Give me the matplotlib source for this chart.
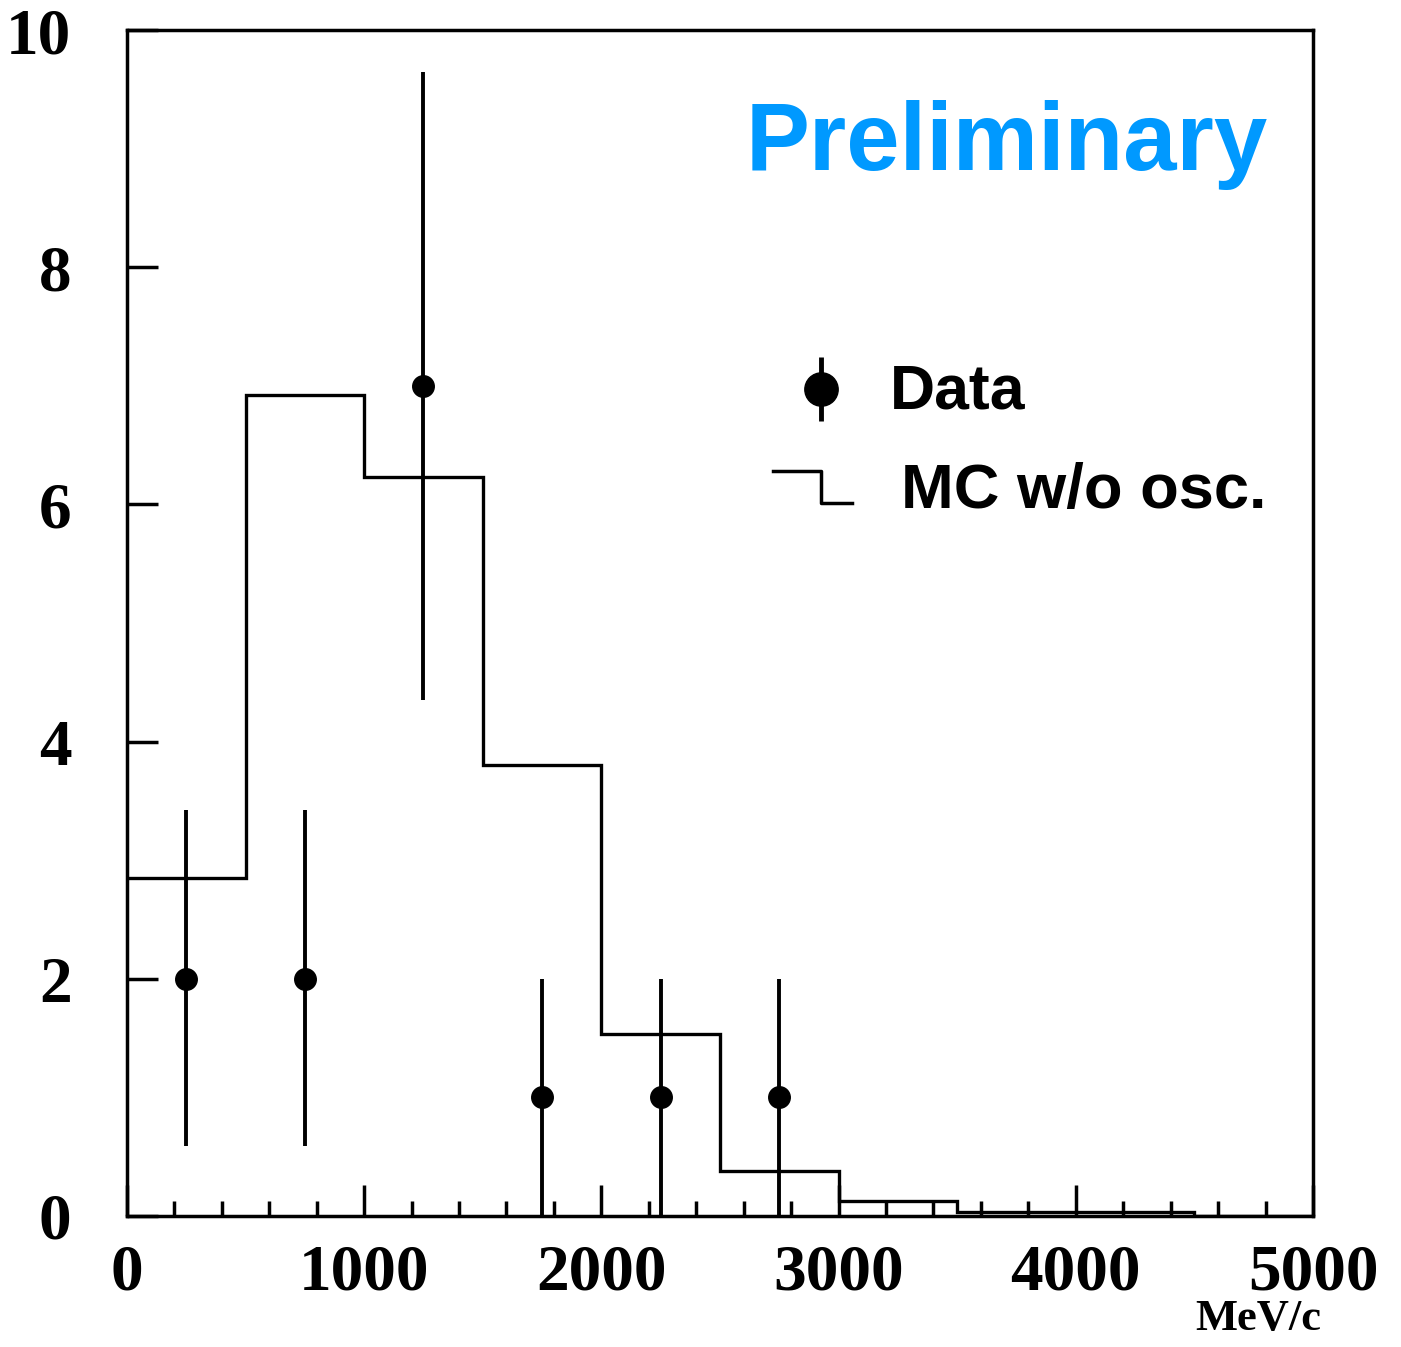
import numpy as np
import matplotlib
matplotlib.use('Agg')
import matplotlib.pyplot as plt
from matplotlib.ticker import MultipleLocator

# MC histogram (bin edges in MeV/c, contents)
mc_edges = [0, 500, 1000, 1500, 2000, 2500, 3000, 3500, 4000, 4500, 5000]
mc_counts = [2.85, 6.92, 6.23, 3.80, 1.53, 0.38, 0.13, 0.03, 0.03, 0.0]

# data points
data_x = [250, 750, 1250, 1750, 2250, 2750]
data_y = [2, 2, 7, 1, 1, 1]
err_lo = [1.41, 1.41, 2.65, 1.0, 1.0, 1.0]
err_hi = [1.42, 1.42, 2.65, 1.0, 1.0, 1.0]

x_ticks = [0, 1000, 2000, 3000, 4000, 5000]
y_ticks = [0, 2, 4, 6, 8, 10]

serif = ['Liberation Serif', 'DejaVu Serif']
sans = ['Liberation Sans', 'DejaVu Sans']

fig = plt.figure(figsize=(14.01, 13.47), dpi=100)
ax = fig.add_axes([0.0906, 0.0973, 0.8466, 0.8804])

ax.stairs(mc_counts, mc_edges, color='black', linewidth=2.4, baseline=None)
ax.errorbar(data_x, data_y, yerr=[err_lo, err_hi], fmt='o', color='black',
            markersize=15.5, elinewidth=2.8, capsize=0)

ax.set_xlim(0, 5000)
ax.set_ylim(0, 10)
ax.set_xticks(x_ticks)
ax.set_yticks(y_ticks)
ax.xaxis.set_minor_locator(MultipleLocator(200))
ax.tick_params(axis='both', which='major', direction='in', length=22, width=2.5,
               labelsize=47, top=False, right=False)
ax.tick_params(axis='x', which='minor', direction='in', length=11, width=2.5,
               top=False)
ax.tick_params(axis='x', pad=20)
ax.tick_params(axis='y', pad=40)
for lab in ax.get_xticklabels() + ax.get_yticklabels():
    lab.set_family(serif)
    lab.set_fontweight('bold')
for s in ax.spines.values():
    s.set_linewidth(2.5)

# axis unit label, bottom right
unit = fig.text(0.943, 0.006, 'MeV/c', family=serif, fontweight='bold',
                fontsize=32, ha='right', va='bottom')

ax.text(0.742, 0.903, 'Preliminary', transform=ax.transAxes, color='#0099ff',
        family=sans, fontweight='bold', fontsize=69, ha='center', va='center')

# legend drawn by hand
ax.errorbar([0.585], [0.697], yerr=[[0.027], [0.027]], fmt='o', color='black',
            markersize=24, elinewidth=3.5, capsize=0, transform=ax.transAxes)
ax.text(0.643, 0.695, 'Data', transform=ax.transAxes, family=sans,
        fontweight='bold', fontsize=45, va='center', ha='left')
ax.plot([0.545, 0.585, 0.585, 0.611], [0.628, 0.628, 0.601, 0.601],
        color='black', linewidth=2.5, transform=ax.transAxes)
ax.text(0.653, 0.611, 'MC w/o osc.', transform=ax.transAxes, family=sans,
        fontweight='bold', fontsize=45.5, va='center', ha='left')

fig.savefig('out.png', dpi=100)
